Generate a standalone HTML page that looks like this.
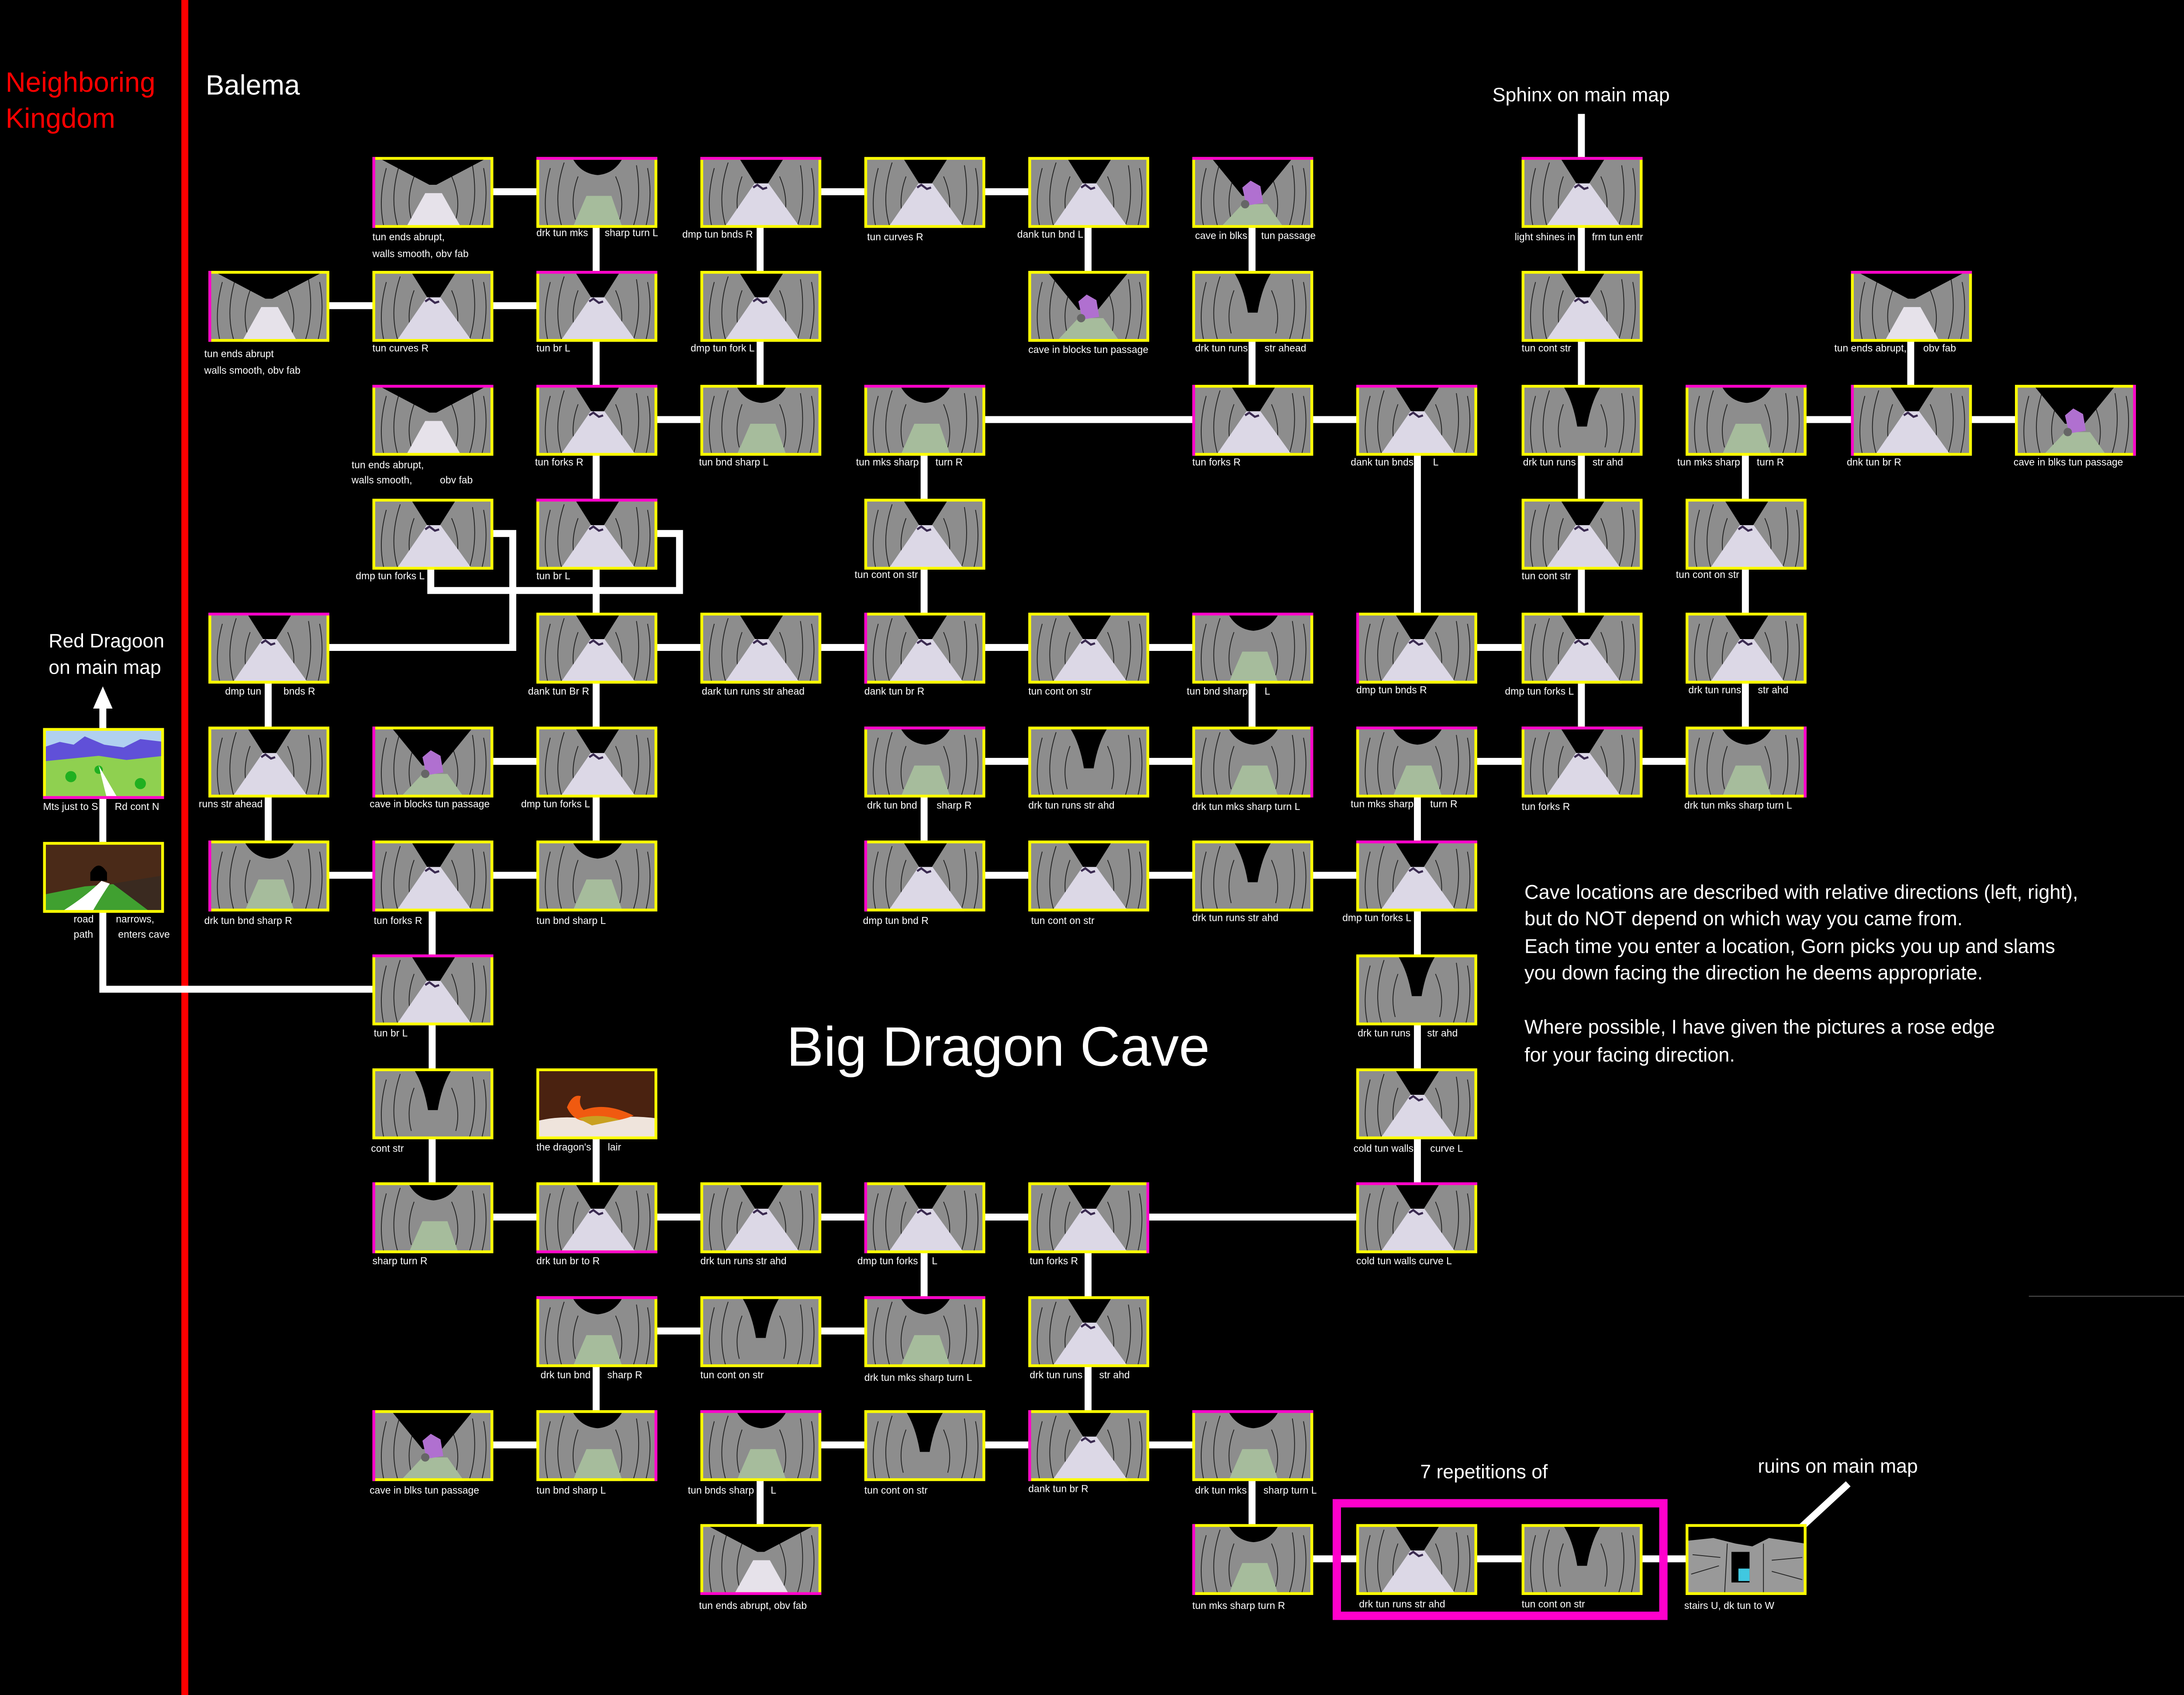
<!DOCTYPE html>
<html><head><meta charset="utf-8"><style>
html,body{margin:0;padding:0;background:#000;overflow:hidden;}
svg{display:block;}
text{font-family:"Liberation Sans",sans-serif;fill:#fff;white-space:pre;}
.l{font-size:7.2px;}
</style></head><body>
<svg xmlns="http://www.w3.org/2000/svg" xmlns:xlink="http://www.w3.org/1999/xlink" width="5157" height="3880" viewBox="0 0 1621 1220" preserveAspectRatio="none">
<defs>
<g id="walls">
<rect x="0" y="0" width="87" height="51" fill="#8d8d8d"/>
<path d="M8 49 Q4 30 10 8 M18 49 Q12 28 20 4 M70 49 Q76 30 72 6 M79 49 Q84 28 80 8 M28 45 Q24 30 30 14 M60 45 Q64 30 57 14" stroke="#222" stroke-width="0.6" fill="none"/>
</g>
<g id="tw"><use xlink:href="#walls"/>
<polygon points="28,1 60,1 48,20 40,20" fill="#000"/>
<polygon points="17,51 39,19 49,19 72,51" fill="#dcd8e6"/>
<path d="M38 22 l3 -2 l4 3 l3 -1" stroke="#3a2a50" stroke-width="1.5" fill="none"/>
<rect x="1" y="1" width="85" height="49" fill="none" stroke="#ff0" stroke-width="2"/></g>
<g id="tg"><use xlink:href="#walls"/>
<path d="M26 1 L62 1 Q56 12 44 13 Q32 12 26 1Z" fill="#000"/>
<polygon points="26,51 36,28 54,28 62,51" fill="#a6bc9c"/>
<rect x="1" y="1" width="85" height="49" fill="none" stroke="#ff0" stroke-width="2"/></g>
<g id="td"><use xlink:href="#walls"/>
<path d="M30 1 L57 1 Q50 12 47 30 L40 30 Q37 12 30 1Z" fill="#000"/>
<rect x="1" y="1" width="85" height="49" fill="none" stroke="#ff0" stroke-width="2"/></g>
<g id="tp"><use xlink:href="#walls"/>
<polygon points="14,1 72,1 50,28 36,28" fill="#000"/>
<polygon points="20,51 36,34 54,34 66,51" fill="#a6bc9c"/>
<path d="M36 22 l6 -5 l7 4 l2 12 l-12 2z" fill="#b070d0"/>
<circle cx="38" cy="34" r="3" fill="#666"/>
<rect x="1" y="1" width="85" height="49" fill="none" stroke="#ff0" stroke-width="2"/></g>
<g id="tf"><use xlink:href="#walls"/>
<polygon points="5,1 82,1 46,20 41,20" fill="#000"/>
<polygon points="24,51 38,26 50,26 64,51" fill="#e6e2ea"/>
<rect x="1" y="1" width="85" height="49" fill="none" stroke="#ff0" stroke-width="2"/></g>
</defs>
<rect width="1621" height="1220" fill="#000"/>
<rect x="130.5" y="0" width="5" height="1220" fill="#f00"/>
<line x1="1460" y1="933" x2="1621" y2="933" stroke="#555" stroke-width="0.6"/>

<g fill="#fff">
<text x="4" y="66" style="font-size:20px;fill:#f00">Neighboring</text>
<text x="4" y="92" style="font-size:20px;fill:#f00">Kingdom</text>
<text x="148" y="68" style="font-size:20px">Balema</text>
<text x="1074" y="73" style="font-size:14px">Sphinx on main map</text>
<text x="35" y="466" style="font-size:14px">Red Dragoon</text>
<text x="35" y="485" style="font-size:14px">on main map</text>
<text x="566" y="767" style="font-size:40px">Big Dragon Cave</text>
<text x="1022" y="1064" style="font-size:14px">7 repetitions of</text>
<text x="1265" y="1060" style="font-size:14px">ruins on main map</text>
<g style="font-size:14.2px">
<text x="1097" y="647">Cave locations are described with relative directions (left, right),</text>
<text x="1097" y="666">but do NOT depend on which way you came from.</text>
<text x="1097" y="686">Each time you enter a location, Gorn picks you up and slams</text>
<text x="1097" y="705">you down facing the direction he deems appropriate.</text>
<text x="1097" y="744">Where possible, I have given the pictures a rose edge</text>
<text x="1097" y="764">for your facing direction.</text>
</g>
</g>

<g stroke="#fff" stroke-width="5" fill="none" stroke-linecap="butt">
<path d="M311 138H429 M547 138H783"/>
<path d="M193 220H429"/>
<path d="M429 302H547 M665 302H1020 M1256 302H1493"/>
<path d="M429 466H901 M1020 466H1138"/>
<path d="M311 548H429 M665 548H901 M1020 548H1256"/>
<path d="M193 630H429 M665 630H1020"/>
<path d="M311 876H783 M783 876H1020"/>
<path d="M429 958H665"/>
<path d="M311 1040H429 M547 1040H901"/>
<path d="M901 1122H1256"/>
<path d="M193 466V630"/>
<path d="M311 630V876"/>
<path d="M429 138V630 M429 794V876 M429 958V1040"/>
<path d="M547 138V302 M547 1040V1122"/>
<path d="M665 302V466 M665 548V630 M665 876V958"/>
<path d="M783 138V220 M783 876V1040"/>
<path d="M901 138V302 M901 466V548 M901 1040V1122"/>
<path d="M1020 302V466 M1020 548V876"/>
<path d="M1138 82V548"/>
<path d="M1256 302V548"/>
<path d="M1375 220V302"/>
<path d="M429 384H489V425H310V384"/>
<path d="M311 384H369V466H193"/>
<path d="M74 500V712H311"/>
<path d="M1290 1105L1330 1068"/>
</g>
<polygon points="74,494 67,510 81,510" fill="#fff"/>

<rect x="962" y="1082" width="235" height="81" fill="none" stroke="#ff00cc" stroke-width="6"/>

<g>
<use xlink:href="#tf" x="268" y="113"/><rect x="268" y="113" width="2" height="51" fill="#ff00cc"/>
<use xlink:href="#tg" x="386" y="113"/><rect x="386" y="113" width="87" height="2" fill="#ff00cc"/>
<use xlink:href="#tw" x="504" y="113"/><rect x="504" y="113" width="87" height="2" fill="#ff00cc"/>
<use xlink:href="#tw" x="622" y="113"/>
<use xlink:href="#tw" x="740" y="113"/>
<use xlink:href="#tp" x="858" y="113"/><rect x="858" y="113" width="87" height="2" fill="#ff00cc"/>
<use xlink:href="#tw" x="1095" y="113"/><rect x="1095" y="113" width="87" height="2" fill="#ff00cc"/>
<use xlink:href="#tf" x="150" y="195"/><rect x="150" y="195" width="2" height="51" fill="#ff00cc"/>
<use xlink:href="#tw" x="268" y="195"/>
<use xlink:href="#tw" x="386" y="195"/><rect x="386" y="195" width="87" height="2" fill="#ff00cc"/>
<use xlink:href="#tw" x="504" y="195"/>
<use xlink:href="#tp" x="740" y="195"/>
<use xlink:href="#td" x="858" y="195"/>
<use xlink:href="#tw" x="1095" y="195"/>
<use xlink:href="#tf" x="1332" y="195"/><rect x="1332" y="195" width="87" height="2" fill="#ff00cc"/>
<use xlink:href="#tf" x="268" y="277"/><rect x="268" y="277" width="87" height="2" fill="#ff00cc"/>
<use xlink:href="#tw" x="386" y="277"/><rect x="386" y="277" width="87" height="2" fill="#ff00cc"/>
<use xlink:href="#tg" x="504" y="277"/>
<use xlink:href="#tg" x="622" y="277"/><rect x="622" y="277" width="87" height="2" fill="#ff00cc"/>
<use xlink:href="#tw" x="858" y="277"/><rect x="858" y="277" width="2" height="51" fill="#ff00cc"/>
<use xlink:href="#tw" x="976" y="277"/><rect x="976" y="277" width="87" height="2" fill="#ff00cc"/>
<use xlink:href="#td" x="1095" y="277"/>
<use xlink:href="#tg" x="1213" y="277"/><rect x="1213" y="277" width="87" height="2" fill="#ff00cc"/>
<use xlink:href="#tw" x="1332" y="277"/><rect x="1332" y="277" width="2" height="51" fill="#ff00cc"/>
<use xlink:href="#tp" x="1450" y="277"/><rect x="1535" y="277" width="2" height="51" fill="#ff00cc"/>
<use xlink:href="#tw" x="268" y="359"/>
<use xlink:href="#tw" x="386" y="359"/><rect x="386" y="359" width="87" height="2" fill="#ff00cc"/>
<use xlink:href="#tw" x="622" y="359"/>
<use xlink:href="#tw" x="1095" y="359"/>
<use xlink:href="#tw" x="1213" y="359"/>
<use xlink:href="#tw" x="150" y="441"/><rect x="150" y="441" width="87" height="2" fill="#ff00cc"/>
<use xlink:href="#tw" x="386" y="441"/>
<use xlink:href="#tw" x="504" y="441"/>
<use xlink:href="#tw" x="622" y="441"/><rect x="622" y="441" width="2" height="51" fill="#ff00cc"/>
<use xlink:href="#tw" x="740" y="441"/>
<use xlink:href="#tg" x="858" y="441"/><rect x="858" y="441" width="87" height="2" fill="#ff00cc"/>
<use xlink:href="#tw" x="976" y="441"/><rect x="976" y="441" width="2" height="51" fill="#ff00cc"/>
<use xlink:href="#tw" x="1095" y="441"/>
<use xlink:href="#tw" x="1213" y="441"/>
<use xlink:href="#tw" x="150" y="523"/>
<use xlink:href="#tp" x="268" y="523"/><rect x="268" y="523" width="2" height="51" fill="#ff00cc"/>
<use xlink:href="#tw" x="386" y="523"/>
<use xlink:href="#tg" x="622" y="523"/><rect x="622" y="523" width="87" height="2" fill="#ff00cc"/>
<use xlink:href="#td" x="740" y="523"/>
<use xlink:href="#tg" x="858" y="523"/><rect x="943" y="523" width="2" height="51" fill="#ff00cc"/>
<use xlink:href="#tg" x="976" y="523"/><rect x="976" y="523" width="87" height="2" fill="#ff00cc"/>
<use xlink:href="#tw" x="1095" y="523"/><rect x="1095" y="523" width="87" height="2" fill="#ff00cc"/>
<use xlink:href="#tg" x="1213" y="523"/><rect x="1298" y="523" width="2" height="51" fill="#ff00cc"/>
<use xlink:href="#tg" x="150" y="605"/><rect x="150" y="605" width="2" height="51" fill="#ff00cc"/>
<use xlink:href="#tw" x="268" y="605"/><rect x="268" y="605" width="2" height="51" fill="#ff00cc"/>
<use xlink:href="#tg" x="386" y="605"/>
<use xlink:href="#tw" x="622" y="605"/><rect x="622" y="605" width="2" height="51" fill="#ff00cc"/>
<use xlink:href="#tw" x="740" y="605"/>
<use xlink:href="#td" x="858" y="605"/>
<use xlink:href="#tw" x="976" y="605"/><rect x="976" y="605" width="87" height="2" fill="#ff00cc"/>
<use xlink:href="#tw" x="268" y="687"/><rect x="268" y="687" width="87" height="2" fill="#ff00cc"/>
<use xlink:href="#td" x="976" y="687"/>
<use xlink:href="#td" x="268" y="769"/>
<use xlink:href="#tw" x="976" y="769"/>
<use xlink:href="#tg" x="268" y="851"/><rect x="268" y="851" width="2" height="51" fill="#ff00cc"/>
<use xlink:href="#tw" x="386" y="851"/><rect x="386" y="900" width="87" height="2" fill="#ff00cc"/>
<use xlink:href="#tw" x="504" y="851"/>
<use xlink:href="#tw" x="622" y="851"/><rect x="622" y="851" width="2" height="51" fill="#ff00cc"/>
<use xlink:href="#tw" x="740" y="851"/><rect x="825" y="851" width="2" height="51" fill="#ff00cc"/>
<use xlink:href="#tw" x="976" y="851"/><rect x="976" y="851" width="87" height="2" fill="#ff00cc"/>
<use xlink:href="#tg" x="386" y="933"/><rect x="386" y="933" width="87" height="2" fill="#ff00cc"/>
<use xlink:href="#td" x="504" y="933"/>
<use xlink:href="#tg" x="622" y="933"/><rect x="622" y="933" width="87" height="2" fill="#ff00cc"/>
<use xlink:href="#tw" x="740" y="933"/>
<use xlink:href="#tp" x="268" y="1015"/><rect x="268" y="1015" width="2" height="51" fill="#ff00cc"/>
<use xlink:href="#tg" x="386" y="1015"/><rect x="471" y="1015" width="2" height="51" fill="#ff00cc"/>
<use xlink:href="#tg" x="504" y="1015"/><rect x="504" y="1015" width="87" height="2" fill="#ff00cc"/>
<use xlink:href="#td" x="622" y="1015"/>
<use xlink:href="#tw" x="740" y="1015"/><rect x="740" y="1015" width="2" height="51" fill="#ff00cc"/>
<use xlink:href="#tg" x="858" y="1015"/><rect x="858" y="1015" width="87" height="2" fill="#ff00cc"/>
<use xlink:href="#tf" x="504" y="1097"/><rect x="504" y="1146" width="87" height="2" fill="#ff00cc"/>
<use xlink:href="#tg" x="858" y="1097"/><rect x="858" y="1097" width="2" height="51" fill="#ff00cc"/>
<use xlink:href="#tw" x="976" y="1097"/>
<use xlink:href="#td" x="1095" y="1097"/>
</g>

<g transform="translate(386,769)">
<rect width="87" height="51" fill="#4a2210"/>
<path d="M0 38 Q20 33 40 37 Q65 33 87 36 V51 H0Z" fill="#efe4dc"/>
<path d="M22 28 Q26 18 32 20 Q30 26 34 30 Q50 24 70 34 Q55 40 35 38 Q26 37 22 28Z" fill="#f05a10"/>
<path d="M30 36 Q45 32 60 37 L40 41Z" fill="#c9a020"/>
<rect x="1" y="1" width="85" height="49" fill="none" stroke="#ff0" stroke-width="2"/>
</g>
<g transform="translate(31,524)">
<rect width="87" height="51" fill="#b0d0f0"/>
<path d="M0 14 L12 10 L22 12 L30 6 L44 12 L58 14 L70 8 L87 10 V24 L60 24 L40 21 L20 24 L0 26Z" fill="#6050d8"/>
<path d="M0 24 L20 22 L40 20 L60 23 L87 20 V51 H0Z" fill="#8fd050"/>
<circle cx="20" cy="35" r="4" fill="#20b020"/><circle cx="70" cy="40" r="4" fill="#20b020"/><circle cx="40" cy="30" r="3" fill="#20b020"/>
<path d="M40 27 L46 51 L54 51Z" fill="#fff"/>
<rect x="1" y="1" width="85" height="49" fill="none" stroke="#ff0" stroke-width="2"/>
<rect x="0" y="49" width="87" height="2" fill="#ff00cc"/>
</g>
<g transform="translate(31,606)">
<rect width="87" height="51" fill="#4a2a18"/>
<path d="M0 38 L30 32 L55 30 L87 26 V51 H0Z" fill="#40a030"/>
<path d="M50 30 L87 24 V51 H78Z" fill="#3a2a20"/>
<path d="M34 22 Q40 12 46 22 L46 28 L34 28Z" fill="#000"/>
<path d="M12 51 Q30 40 42 28 L48 30 Q40 42 35 51Z" fill="#fff"/>
<rect x="1" y="1" width="85" height="49" fill="none" stroke="#ff0" stroke-width="2"/>
</g>
<g transform="translate(1213,1097)">
<rect width="87" height="51" fill="#999"/>
<path d="M1 1 H86 V14 L60 10 L48 16 L36 14 L20 10 L1 12Z" fill="#000"/>
<rect x="33" y="20" width="13" height="22" fill="#000"/>
<rect x="38" y="32" width="8" height="9" fill="#40c8e0"/>
<path d="M5 22 L25 24 M4 36 L24 30 M62 26 L84 24 M62 34 L84 40 M30 14 L28 51 M56 14 L56 51" stroke="#222" stroke-width="0.6"/>
<rect x="1" y="1" width="85" height="49" fill="none" stroke="#ff0" stroke-width="2"/>
</g>

<g class="l">
<text x="268" y="173">tun ends abrupt,</text><text x="268" y="185">walls smooth, obv fab</text>
<text x="386" y="170">drk tun mks      sharp turn L</text>
<text x="491" y="171">dmp tun bnds R</text>
<text x="624" y="173">tun curves R</text>
<text x="732" y="171">dank tun bnd L</text>
<text x="860" y="172">cave in blks     tun passage</text>
<text x="1090" y="173">light shines in      frm tun entr</text>
<text x="147" y="257">tun ends abrupt</text><text x="147" y="269">walls smooth, obv fab</text>
<text x="268" y="253">tun curves R</text>
<text x="386" y="253">tun br L</text>
<text x="497" y="253">dmp tun fork L</text>
<text x="740" y="254">cave in blocks tun passage</text>
<text x="860" y="253">drk tun runs      str ahead</text>
<text x="1095" y="253">tun cont str</text>
<text x="1320" y="253">tun ends abrupt,      obv fab</text>
<text x="253" y="337">tun ends abrupt,</text><text x="253" y="348">walls smooth,          obv fab</text>
<text x="385" y="335">tun forks R</text>
<text x="503" y="335">tun bnd sharp L</text>
<text x="616" y="335">tun mks sharp      turn R</text>
<text x="858" y="335">tun forks R</text>
<text x="972" y="335">dank tun bnds       L</text>
<text x="1096" y="335">drk tun runs      str ahd</text>
<text x="1207" y="335">tun mks sharp      turn R</text>
<text x="1329" y="335">dnk tun br R</text>
<text x="1449" y="335">cave in blks tun passage</text>
<text x="256" y="417">dmp tun forks L</text>
<text x="386" y="417">tun br L</text>
<text x="615" y="416">tun cont on str</text>
<text x="1095" y="417">tun cont str</text>
<text x="1206" y="416">tun cont on str</text>
<text x="162" y="500">dmp tun        bnds R</text>
<text x="380" y="500">dank tun Br R</text>
<text x="505" y="500">dark tun runs str ahead</text>
<text x="622" y="500">dank tun br R</text>
<text x="740" y="500">tun cont on str</text>
<text x="854" y="500">tun bnd sharp      L</text>
<text x="976" y="499">dmp tun bnds R</text>
<text x="1083" y="500">dmp tun forks L</text>
<text x="1215" y="499">drk tun runs      str ahd</text>
<text x="143" y="581">runs str ahead</text>
<text x="266" y="581">cave in blocks tun passage</text>
<text x="375" y="581">dmp tun forks L</text>
<text x="624" y="582">drk tun bnd       sharp R</text>
<text x="740" y="582">drk tun runs str ahd</text>
<text x="858" y="583">drk tun mks sharp turn L</text>
<text x="972" y="581">tun mks sharp      turn R</text>
<text x="1095" y="583">tun forks R</text>
<text x="1212" y="582">drk tun mks sharp turn L</text>
<text x="147" y="665">drk tun bnd sharp R</text>
<text x="269" y="665">tun forks R</text>
<text x="386" y="665">tun bnd sharp L</text>
<text x="621" y="665">dmp tun bnd R</text>
<text x="742" y="665">tun cont on str</text>
<text x="858" y="663">drk tun runs str ahd</text>
<text x="966" y="663">dmp tun forks L</text>
<text x="269" y="746">tun br L</text>
<text x="977" y="746">drk tun runs      str ahd</text>
<text x="267" y="829">cont str</text>
<text x="386" y="828">the dragon's      lair</text>
<text x="974" y="829">cold tun walls      curve L</text>
<text x="268" y="910">sharp turn R</text>
<text x="386" y="910">drk tun br to R</text>
<text x="504" y="910">drk tun runs str ahd</text>
<text x="617" y="910">dmp tun forks     L</text>
<text x="741" y="910">tun forks R</text>
<text x="976" y="910">cold tun walls curve L</text>
<text x="389" y="992">drk tun bnd      sharp R</text>
<text x="504" y="992">tun cont on str</text>
<text x="622" y="994">drk tun mks sharp turn L</text>
<text x="741" y="992">drk tun runs      str ahd</text>
<text x="266" y="1075">cave in blks tun passage</text>
<text x="386" y="1075">tun bnd sharp L</text>
<text x="495" y="1075">tun bnds sharp      L</text>
<text x="622" y="1075">tun cont on str</text>
<text x="740" y="1074">dank tun br R</text>
<text x="860" y="1075">drk tun mks      sharp turn L</text>
<text x="503" y="1158">tun ends abrupt, obv fab</text>
<text x="858" y="1158">tun mks sharp turn R</text>
<text x="978" y="1157">drk tun runs str ahd</text>
<text x="1095" y="1157">tun cont on str</text>
<text x="1212" y="1158">stairs U, dk tun to W</text>
<text x="31" y="583">Mts just to S      Rd cont N</text>
<text x="53" y="664">road        narrows,</text>
<text x="53" y="675">path         enters cave</text>
</g>
</svg>
</body></html>
